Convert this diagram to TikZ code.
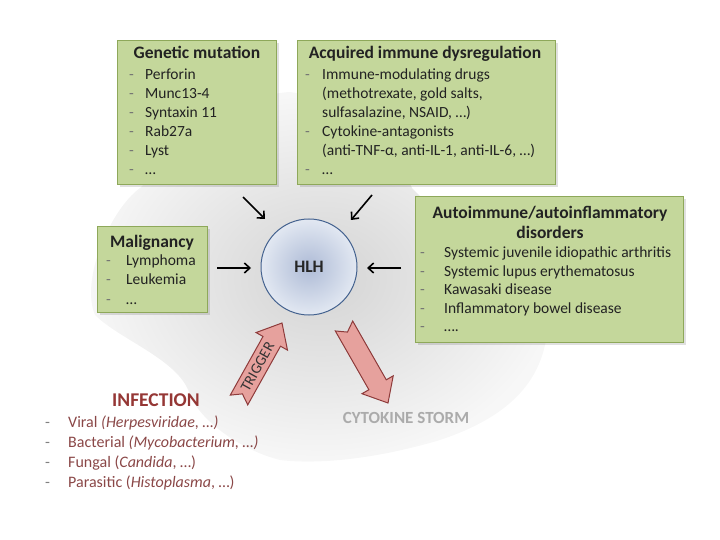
\documentclass[tikz,border=0pt]{standalone}
\usepackage{fontspec}
\setmainfont{Carlito}
\usetikzlibrary{arrows.meta,calc,shadows}
\definecolor{boxfill}{HTML}{C4D79B}
\definecolor{boxline}{HTML}{8EA85A}
\definecolor{infred}{HTML}{953735}
\definecolor{infitem}{HTML}{8A4747}
\definecolor{arrfill}{HTML}{E6A19D}
\definecolor{arrline}{HTML}{8E3B3B}
\definecolor{hlhline}{HTML}{44628F}
\definecolor{hlhin}{HTML}{AEBBD6}
\definecolor{hlhout}{HTML}{E2E8F2}
\definecolor{txt}{HTML}{222222}
\tikzset{
  box/.style={draw=boxline, fill=boxfill, line width=1.2bp, inner sep=0, anchor=north west,
    drop shadow={shadow xshift=2bp, shadow yshift=-2bp, fill=black, opacity=0.12}},
  boxtitle/.style={font=\bfseries\fontsize{17.5bp}{20bp}\selectfont, text=txt, inner sep=0, anchor=base},
  item/.style={font=\fontsize{15.5bp}{19bp}\selectfont, text=txt, inner sep=0, anchor=base west},
  dashitem/.style={item, text=black!55},
  inftitle/.style={font=\bfseries\fontsize{19.5bp}{22bp}\selectfont, text=infred, inner sep=0, anchor=base},
  infitm/.style={font=\fontsize{16bp}{19bp}\selectfont, text=infitem, inner sep=0, anchor=base west},
  infdash/.style={infitm, text=black!50},
  conn/.style={line width=1.6bp, -{Straight Barb[length=5.5bp,width=10bp,line width=1.6bp]}},
  blockarrow/.style={fill=arrfill, draw=arrline, line width=1bp, line join=miter},
}
\begin{document}
\begin{tikzpicture}[x=1bp,y=-1bp]
\useasboundingbox (0,0) rectangle (720,540);
% background cloud
\shade[inner color=black!17, outer color=black!3]
  (290,92) .. controls (350,100) and (395,150) .. (412,188)
  .. controls (450,230) and (560,280) .. (545,345)
  .. controls (535,390) and (500,420) .. (440,440)
  .. controls (380,458) and (320,465) .. (280,460)
  .. controls (240,450) and (200,420) .. (190,395)
  .. controls (180,360) and (120,340) .. (95,315)
  .. controls (80,280) and (110,210) .. (140,188)
  .. controls (180,150) and (230,95) .. (290,92) -- cycle;

% boxes
\node[box, minimum width=159bp, minimum height=144bp] (gen) at (117,40) {};
\node[box, minimum width=258bp, minimum height=144bp] (acq) at (297,40) {};
\node[box, minimum width=110bp, minimum height=86bp] (mal) at (97,226) {};
\node[box, minimum width=268bp, minimum height=146bp] (aut) at (415,196) {};

% genetic mutation
\node[boxtitle] (gent) at (197,59) {Genetic mutation};
\foreach [count=\i] \t in {Perforin, Munc13-4, Syntaxin 11, Rab27a, Lyst, …} {
  \node[dashitem] (gd\i) at (129,{79.5+19*(\i-1)}) {-};
  \node[item] (gi\i) at (145,{79.5+19*(\i-1)}) {\t};
}

% acquired immune dysregulation
\node[boxtitle] (acqt) at (425,59) {Acquired immune dysregulation};
\node[dashitem] (ad1) at (305,79.5) {-};
\node[item] (ai1) at (322,79.5) {Immune-modulating drugs};
\node[item] (ai2) at (322,98.5) {(methotrexate, gold salts,};
\node[item] (ai3) at (322,117.5) {sulfasalazine, NSAID, …)};
\node[dashitem] (ad4) at (305,136.5) {-};
\node[item] (ai4) at (322,136.5) {Cytokine-antagonists};
\node[item] (ai5) at (322,155.5) {(anti-TNF-α, anti-IL-1, anti-IL-6, …)};
\node[dashitem] (ad6) at (305,174.5) {-};
\node[item] (ai6) at (322,174.5) {…};

% malignancy
\node[boxtitle] (malt) at (152,247.5) {Malignancy};
\foreach [count=\i] \t in {Lymphoma, Leukemia, …} {
  \node[dashitem] (md\i) at (106,{266+19*(\i-1)}) {-};
  \node[item] (mi\i) at (126,{266+19*(\i-1)}) {\t};
}

% autoimmune
\node[boxtitle] (autt1) at (550,218.5) {Autoimmune/autoinflammatory};
\node[boxtitle] (autt2) at (550,238.5) {disorders};
\foreach [count=\i] \t in {Systemic juvenile idiopathic arthritis, Systemic lupus erythematosus, Kawasaki disease, Inflammatory bowel disease, ….} {
  \node[dashitem] (ud\i) at (420,{257.5+18.6*(\i-1)}) {-};
  \node[item] (ui\i) at (444,{257.5+18.6*(\i-1)}) {\t};
}

% HLH
\node[circle, minimum size=96bp, inner sep=0, draw=hlhline, line width=1bp,
      inner color=hlhin, outer color=hlhout,
      font=\bfseries\fontsize{17.5bp}{20bp}\selectfont, text=black!85] (hlh) at (309,267) {HLH};

% black arrows
\coordinate (c1a) at (243,197); \coordinate (c1b) at (265,219);
\coordinate (c2a) at (372,195); \coordinate (c2b) at (351,220);
\coordinate (c3a) at (217,268); \coordinate (c3b) at (251,268);
\coordinate (c4a) at (401,268); \coordinate (c4b) at (367,268);
\draw[conn] (c1a) -- (c1b);
\draw[conn] (c2a) -- (c2b);
\draw[conn] (c3a) -- (c3b);
\draw[conn] (c4a) -- (c4b);

% trigger arrow
\coordinate (ta) at (239,400); \coordinate (tb) at (282,323);
\coordinate (th) at ($(tb)!21bp!(ta)$);
\coordinate (tn) at ($(ta)!7bp!(tb)$);
\draw[blockarrow] ($(ta)!10bp!90:(tb)$) -- ($(th)!10bp!-90:(ta)$) -- ($(th)!18bp!-90:(ta)$) -- (tb)
  -- ($(th)!18bp!90:(ta)$) -- ($(th)!10bp!90:(ta)$) -- ($(ta)!10bp!-90:(tb)$) -- (tn) -- cycle;
\path (ta) -- (tb) node[pos=0.43, sloped, font=\fontsize{15bp}{17bp}\selectfont, text=black!80, inner sep=0] (trig) {TRIGGER};

% cytokine arrow
\coordinate (ka) at (344,326); \coordinate (kb) at (388,403);
\coordinate (kh) at ($(kb)!21bp!(ka)$);
\coordinate (kn) at ($(ka)!7bp!(kb)$);
\draw[blockarrow] ($(ka)!10bp!90:(kb)$) -- ($(kh)!10bp!-90:(ka)$) -- ($(kh)!18bp!-90:(ka)$) -- (kb)
  -- ($(kh)!18bp!90:(ka)$) -- ($(kh)!10bp!90:(ka)$) -- ($(ka)!10bp!-90:(kb)$) -- (kn) -- cycle;

\node[font=\bfseries\fontsize{17bp}{20bp}\selectfont, text=black!33, inner sep=0, anchor=base] (cs) at (406,423.5) {CYTOKINE STORM};

% infection
\node[inftitle] (inft) at (156,406) {INFECTION};
\node[infdash] (id1) at (45,427.5) {-};
\node[infitm] (ii1) at (68,427.5) {Viral \textit{(Herpesviridae, …)}};
\node[infdash] (id2) at (45,447.5) {-};
\node[infitm] (ii2) at (68,447.5) {Bacterial \textit{(Mycobacterium, …)}};
\node[infdash] (id3) at (45,467.5) {-};
\node[infitm] (ii3) at (68,467.5) {Fungal (\textit{Candida}, …)};
\node[infdash] (id4) at (45,487.5) {-};
\node[infitm] (ii4) at (68,487.5) {Parasitic (\textit{Histoplasma}, …)};
\end{tikzpicture}
\end{document}
